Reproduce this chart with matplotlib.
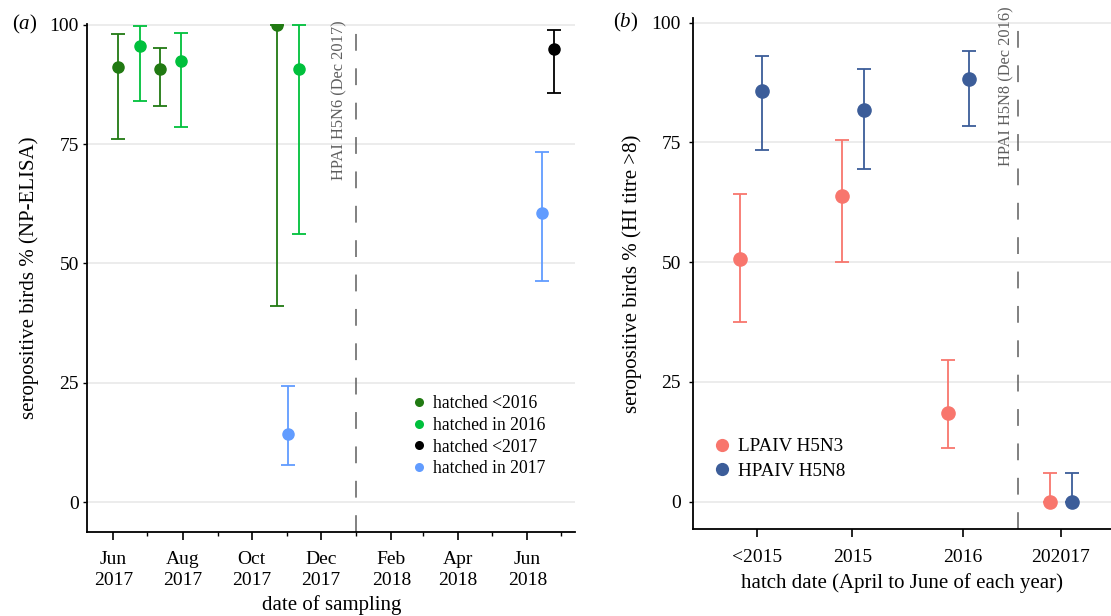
import numpy as np
import matplotlib
matplotlib.use('Agg')
import matplotlib.pyplot as plt
import matplotlib.dates as mdates
from matplotlib.lines import Line2D

plt.rcParams['font.family'] = ['Liberation Serif', 'DejaVu Serif']
plt.rcParams['mathtext.fontset'] = 'custom'
plt.rcParams['mathtext.rm'] = 'Liberation Serif'
plt.rcParams['mathtext.it'] = 'Liberation Serif:italic'

# ---- panel (a): NP-ELISA by sampling date ----
old16_dates = ['2017-06-05', '2017-07-12', '2017-10-23']
old16_pct = [91.2, 90.7, 99.9]
old16_lo = [76.0, 83.0, 41.1]
old16_hi = [98.0, 95.2, 100.0]

in16_dates = ['2017-06-24', '2017-07-31', '2017-11-12']
in16_pct = [95.5, 92.3, 90.7]
in16_lo = [84.1, 78.6, 56.2]
in16_hi = [99.7, 98.3, 100.0]

old17_dates = ['2018-06-24']
old17_pct = [95.0]
old17_lo = [85.7]
old17_hi = [98.8]

in17_dates = ['2017-11-02', '2018-06-14']
in17_pct = [14.3, 60.6]
in17_lo = [7.8, 46.4]
in17_hi = [24.3, 73.3]

outbreak_a = '2018-01-01'

# ---- panel (b): HI titre by hatch year ----
hatch_labels = ['<2015', '2015', '2016', '202017']
lpai_pct = [50.7, 63.8, 18.5, 0.0]
lpai_lo = [37.6, 50.1, 11.2, 0.0]
lpai_hi = [64.2, 75.6, 29.5, 6.0]
hpai_pct = [85.7, 81.8, 88.2, 0.0]
hpai_lo = [73.4, 69.5, 78.5, 0.0]
hpai_hi = [93.1, 90.3, 94.1, 6.0]

# layout of the hatch axis (pixel-like units from the left spine)
hatch_ticks = [64.0, 159.6, 270.0, 368.0]
group_mid = [58.0, 160.5, 265.6, 368.3]
dodge = 10.8
outbreak_b = 325.3

C_OLD16 = '#217a12'
C_IN16 = '#00c03c'
C_OLD17 = '#000000'
C_IN17 = '#619cff'
C_LPAI = '#f8766d'
C_HPAI = '#3c5d99'
GRID = '#ebebeb'
VLINE = '#5e5e5e'


def errbars(ax, x, y, lo, hi, color, ms):
    y = np.asarray(y)
    err = [y - np.asarray(lo), np.asarray(hi) - y]
    ax.errorbar(x, y, yerr=err, fmt='o', color=color, ms=ms,
                elinewidth=1.3, capsize=5.3, capthick=1.3, zorder=3)


def style(ax, ypad):
    for s in ['top', 'right']:
        ax.spines[s].set_visible(False)
    for s in ['left', 'bottom']:
        ax.spines[s].set_linewidth(1.3)
    ax.set_yticks([0, 25, 50, 75, 100])
    ax.yaxis.grid(True, color=GRID, lw=1.3)
    ax.set_axisbelow(True)
    ax.tick_params(axis='y', length=3, width=1.0, labelsize=14, pad=ypad)
    ax.tick_params(axis='x', which='major', length=6, width=1.2, labelsize=14, pad=8)
    ax.tick_params(axis='x', which='minor', length=3, width=1.0)


fig = plt.figure(figsize=(11.11, 6.16), dpi=100)
ax1 = fig.add_axes([0.0786, 0.1368, 0.4390, 0.8242])
ax2 = fig.add_axes([0.6235, 0.1407, 0.3765, 0.8296])

# panel (a)
d = lambda s: mdates.datestr2num(s) if isinstance(s, str) else mdates.datestr2num(list(s))
errbars(ax1, d(old16_dates), old16_pct, old16_lo, old16_hi, C_OLD16, 8)
errbars(ax1, d(in16_dates), in16_pct, in16_lo, in16_hi, C_IN16, 8)
errbars(ax1, d(old17_dates), old17_pct, old17_lo, old17_hi, C_OLD17, 8)
errbars(ax1, d(in17_dates), in17_pct, in17_lo, in17_hi, C_IN17, 8)
ax1.axvline(d(outbreak_a), color=VLINE, lw=1.1, dashes=(11, 11.5), zorder=2)
ax1.text(d(outbreak_a) - 15, 101, 'HPAI H5N6 (Dec 2017)', rotation=90, ha='center',
         va='top', fontsize=11.8, color=VLINE, clip_on=False)
ax1.set_xlim(d('2017-05-09'), d('2018-07-13'))
ax1.set_ylim(-6.22, 100.15)
ax1.xaxis.set_major_locator(mdates.MonthLocator(bymonth=[2, 4, 6, 8, 10, 12]))
ax1.xaxis.set_minor_locator(mdates.MonthLocator())
ax1.xaxis.set_major_formatter(mdates.DateFormatter('%b\n%Y'))
style(ax1, 3)
for t in ax1.get_xticklabels():
    t.set_linespacing(1.28)
ax1.set_xlabel('date of sampling', fontsize=15, labelpad=4.5)
ax1.set_ylabel('seropositive birds % (NP-ELISA)', fontsize=15, labelpad=7.5)

h1 = [Line2D([], [], ls='', marker='o', ms=6.5, mew=0, color=c)
      for c in [C_OLD16, C_IN16, C_OLD17, C_IN17]]
ax1.legend(h1, ['hatched <2016', 'hatched in 2016', 'hatched <2017', 'hatched in 2017'],
           loc='center left', bbox_to_anchor=(0.6658, 0.188), frameon=False,
           fontsize=12.7, handlelength=0.8, handletextpad=0.4, borderpad=0,
           borderaxespad=0, labelspacing=0.27)

# panel (b)
mid = np.asarray(group_mid)
errbars(ax2, mid - dodge, lpai_pct, lpai_lo, lpai_hi, C_LPAI, 9.5)
errbars(ax2, mid + dodge, hpai_pct, hpai_lo, hpai_hi, C_HPAI, 9.5)
ax2.axvline(outbreak_b, color=VLINE, lw=1.1, dashes=(11, 11.5), zorder=2)
ax2.text(outbreak_b - 12, 103.3, 'HPAI H5N8 (Dec 2016)', rotation=90, ha='center',
         va='top', fontsize=11.8, color=VLINE, clip_on=False)
ax2.set_xlim(0, 418.3)
ax2.set_ylim(-5.76, 100.9)
ax2.set_xticks(hatch_ticks)
ax2.set_xticklabels(hatch_labels)
style(ax2, 5.5)
ax2.set_xlabel('hatch date (April to June of each year)', fontsize=15, labelpad=5.5)
ax2.set_ylabel('seropositive birds % (HI titre >8)', fontsize=15, labelpad=7)

h2 = [Line2D([], [], ls='', marker='o', ms=9.5, mew=0, color=c) for c in [C_LPAI, C_HPAI]]
ax2.legend(h2, ['LPAIV H5N3', 'HPAIV H5N8'], loc='center left',
           bbox_to_anchor=(0.0524, 0.138), frameon=False, fontsize=13.8,
           handlelength=0.8, handletextpad=0.4, borderpad=0, borderaxespad=0,
           labelspacing=0.36)

fig.text(11.7 / 1111, 1 - 24.7 / 616, r'($\mathit{a}$)', fontsize=15, va='center', ha='left')
fig.text(613 / 1111, 1 - 22.7 / 616, r'($\mathit{b}$)', fontsize=15, va='center', ha='left')

fig.savefig('out.png', dpi=100)
